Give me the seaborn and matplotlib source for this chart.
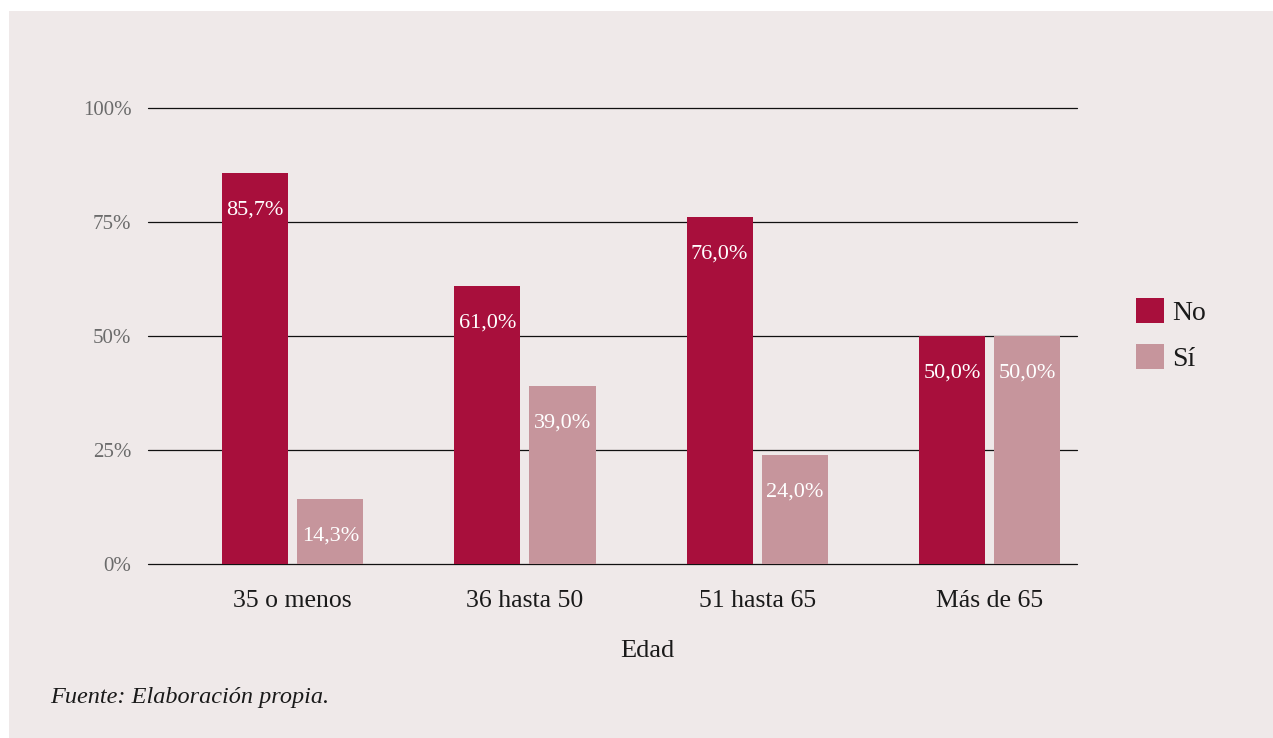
import matplotlib
matplotlib.use("Agg")
import matplotlib.pyplot as plt
from matplotlib.patches import Rectangle, Patch
import pandas as pd
import seaborn as sns

# Survey shares by age group
edades = ["35 o menos", "36 hasta 50", "51 hasta 65", "Más de 65"]
no_vals = [85.7, 61.0, 76.0, 50.0]
si_vals = [14.3, 39.0, 24.0, 50.0]
respuestas = ["No", "Sí"]
y_ticks = [0, 25, 50, 75, 100]
y_tick_labels = ["0%", "25%", "50%", "75%", "100%"]

color_no = "#a80f3c"
color_si = "#c6959c"
panel_bg = "#efe9e9"

df = pd.DataFrame({
    "Edad": edades * 2,
    "Respuesta": ["No"] * len(edades) + ["Sí"] * len(edades),
    "Valor": no_vals + si_vals,
})

sns.set_theme(style="white")
plt.rcParams["font.family"] = ["Liberation Serif", "DejaVu Serif"]

W, H = 1273, 738
fig = plt.figure(figsize=(W / 100, H / 100), dpi=100, facecolor="white")
fig.patches.append(Rectangle((9 / W, 0), 1 - 9 / W, 1 - 11 / H,
                             transform=fig.transFigure, facecolor=panel_bg,
                             edgecolor="none", zorder=-10))

ax = fig.add_axes([148 / W, 1 - 564 / H, (1077 - 148) / W, (564 - 108) / H])
ax.set_facecolor("none")

sns.barplot(data=df, x="Edad", y="Valor", hue="Respuesta", order=edades,
            hue_order=respuestas, palette=[color_no, color_si],
            saturation=1, linewidth=0, edgecolor="none",
            width=0.647, gap=0.12, ax=ax, legend=False, zorder=3)

ax.set_xlim(-0.623, 3.377)
ax.set_ylim(0, 100)
ax.set_yticks(y_ticks)
ax.set_yticklabels(y_tick_labels, color="#6b6b6b", fontsize=15)
for t in y_ticks:
    ax.axhline(t, color="#111111", lw=0.9, zorder=1, clip_on=False)
for s in ax.spines.values():
    s.set_visible(False)
ax.tick_params(axis="y", length=0, pad=12)
ax.tick_params(axis="x", length=0, pad=19, labelsize=18.5, labelcolor="#1a1a1a")
ax.set_ylabel("")
ax.set_xlabel("Edad", fontsize=19, color="#1a1a1a")
ax.xaxis.set_label_coords((647 - 148) / 929, -(651 - 564) / 456)
ax.xaxis.label.set_va("center")

# value labels inside the top of each bar
for cont in ax.containers:
    for bar in cont:
        h = bar.get_height()
        txt = f"{h:.1f}".replace(".", ",") + "%"
        ax.annotate(txt, (bar.get_x() + bar.get_width() / 2, h),
                    xytext=(0, -37), textcoords="offset pixels",
                    ha="center", va="center", color="white", fontsize=16,
                    zorder=5)

handles = [Patch(facecolor=color_no, edgecolor="none"),
           Patch(facecolor=color_si, edgecolor="none")]
fig.legend(handles, respuestas, loc="center left",
           bbox_to_anchor=(1122 / W, 1 - 335 / H), frameon=False,
           fontsize=20, handlelength=1.0, handleheight=1.0,
           handletextpad=0.3, labelspacing=0.65, borderpad=0,
           labelcolor="#1a1a1a")

fig.text(50 / W, 1 - 697 / H, "Fuente: Elaboración propia.", fontsize=17.5,
         style="italic", color="#1a1a1a", ha="left", va="center")

fig.savefig("out.png", dpi=100, facecolor="white")
